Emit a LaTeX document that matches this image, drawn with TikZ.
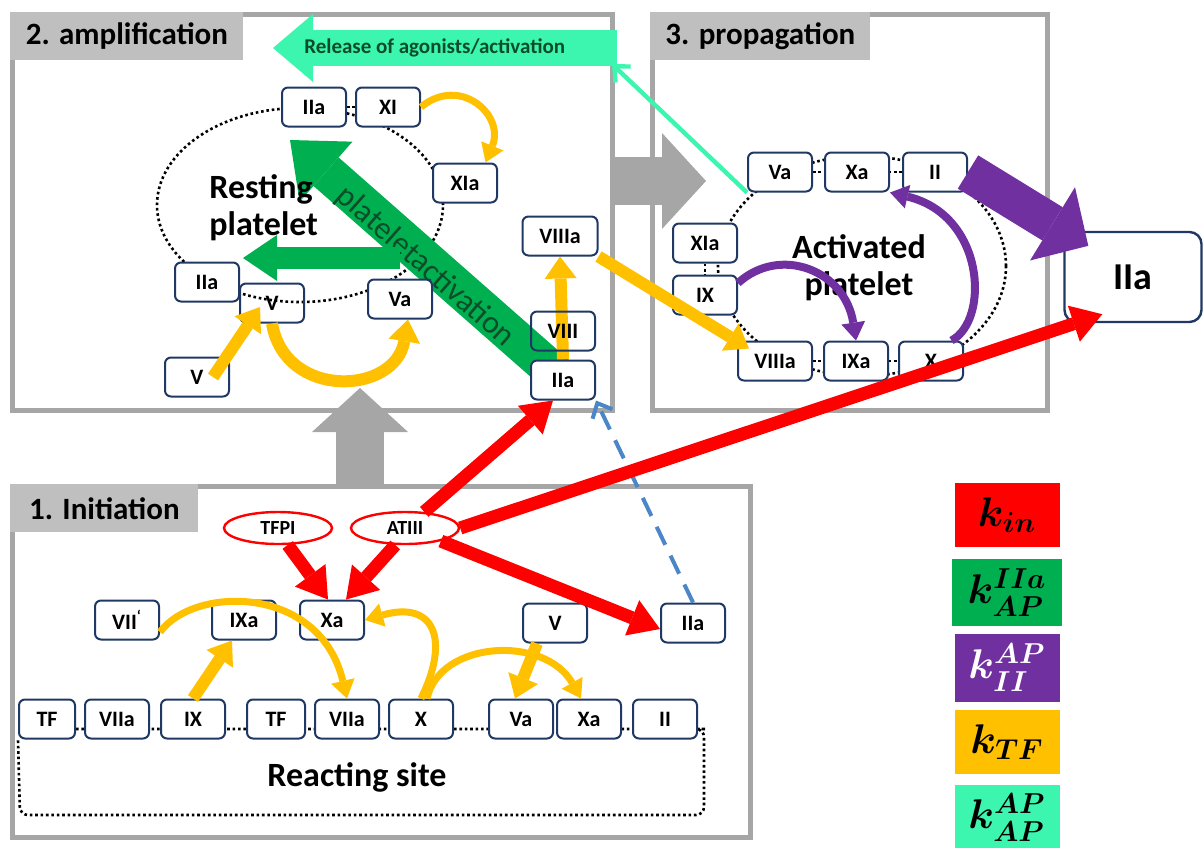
\documentclass[tikz,border=0pt]{standalone}
\usepackage{fontspec}
\setmainfont{Carlito}
\usetikzlibrary{arrows.meta,backgrounds,positioning,shapes.geometric}
\definecolor{CoagPanel}{HTML}{A6A6A6}
\definecolor{CoagLabel}{HTML}{BFBFBF}
\definecolor{CoagNavy}{HTML}{1F3864}
\definecolor{CoagRed}{HTML}{FF0000}
\definecolor{CoagGreen}{HTML}{00B050}
\definecolor{CoagGreenText}{HTML}{0B4D28}
\definecolor{CoagPurple}{HTML}{7030A0}
\definecolor{CoagYellow}{HTML}{FFC000}
\definecolor{CoagTeal}{HTML}{3CF5AE}
\definecolor{CoagBlue}{HTML}{4A86C8}
\tikzset{
  coag panel/.style={
    draw=CoagPanel,
    line width=2.5pt,
    anchor=north west,
    inner sep=0pt
  },
  coag phase/.style={
    fill=CoagLabel,
    anchor=north west,
    minimum height=24pt,
    inner sep=2pt,
    font=\fontsize{15.5}{18}\selectfont\bfseries
  },
  coag factor/.style={
    draw=CoagNavy,
    fill=white,
    line width=1pt,
    rounded corners=3pt,
    minimum width=32pt,
    minimum height=19.5pt,
    inner sep=1pt,
    font=\fontsize{11}{13}\selectfont\bfseries
  },
  coag inhibitor/.style={
    ellipse,
    draw=CoagRed,
    fill=white,
    line width=1.2pt,
    minimum width=54pt,
    minimum height=16pt,
    inner sep=0pt,
    font=\fontsize{10}{12}\selectfont\bfseries
  },
  coag membrane/.style={
    ellipse,
    draw=black,
    line width=1.3pt,
    dash pattern=on 1.3pt off 1.4pt,
    inner sep=0pt
  },
  coag cell text/.style={
    inner sep=0pt,
    font=\fontsize{17}{18.5}\selectfont\bfseries
  },
  coag key/.style={
    minimum width=52.5pt,
    minimum height=32pt,
    inner sep=0pt,
    font=\fontsize{22}{24}\selectfont\boldmath
  },
  coag site/.style={draw=black,line width=1.3pt,dash pattern=on 1.3pt off 1.4pt},
  coag gray flow/.style={-{Triangle[length=22pt,width=48pt,line width=0pt]},draw=CoagPanel,line width=24pt},
  coag release flow/.style={-{Triangle[length=20pt,width=34pt,line width=0pt]},draw=CoagTeal,line width=18pt},
  coag release thin/.style={-{Straight Barb[length=6pt,width=11pt]},draw=CoagTeal,line width=2.2pt},
  coag activation flow/.style={-{Triangle[length=24pt,width=40pt,line width=0pt]},draw=CoagGreen,line width=19pt},
  coag activation small/.style={-{Triangle[length=17pt,width=23pt,line width=0pt]},draw=CoagGreen,line width=11pt},
  coag yellow flow/.style={-{Triangle[length=11pt,width=16pt,line width=0pt]},draw=CoagYellow,line width=6pt},
  coag yellow thin/.style={-{Triangle[length=9pt,width=12pt,line width=0pt]},draw=CoagYellow,line width=3.5pt},
  coag purple flow/.style={-{Triangle[length=21pt,width=43pt,line width=0pt]},draw=CoagPurple,line width=19.5pt},
  coag purple thin/.style={-{Triangle[length=9pt,width=12pt,line width=0pt]},draw=CoagPurple,line width=4pt},
  coag red flow/.style={-{Triangle[length=15pt,width=19pt,line width=0pt]},draw=CoagRed,line width=6.5pt},
  coag thrombin dash/.style={-{Straight Barb[length=6pt,width=11pt]},draw=CoagBlue,line width=2pt,dash pattern=on 10pt off 6pt}
}

\begin{document}
\begin{tikzpicture}[x=0.5pt,y=-0.5pt,node distance=4pt]
  \useasboundingbox (0,0) rectangle (1204,847);

  \node[coag factor] (iia2t) at (314,107) {IIa};
  \node[coag factor,right=4pt of iia2t] (xi2) {XI};
  \node[coag factor] (xia2) at (465,183) {XIa};
  \node[coag factor] (iia2l) at (207,282) {IIa};
  \node[coag factor,fill=none] (v2) at (272,303) {V};
  \node[coag factor] (va2) at (400,299) {Va};
  \node[coag factor] (v2b) at (197,377) {V};
  \node[coag factor,minimum width=37.5pt] (viiia2) at (560,236) {VIIIa};
  \node[coag factor,fill=none] (viii2) at (563,331) {VIII};
  \node[coag factor,below=4pt of viii2] (iia2b) {IIa};
  \node[coag cell text,align=left,anchor=west] (resttext) at (209,208) {Resting\\platelet};

  \node[coag factor] (va3) at (780,172) {Va};
  \node[coag factor,right=5.5pt of va3] (xa3) {Xa};
  \node[coag factor,right=6pt of xa3] (ii3) {II};
  \node[coag factor] (xia3) at (705,243) {XIa};
  \node[coag factor,below=5.5pt of xia3] (ix3) {IX};
  \node[coag factor,minimum width=37pt] (viiia3) at (775,361) {VIIIa};
  \node[coag factor,right=5pt of viiia3] (ixa3) {IXa};
  \node[coag factor,right=4.5pt of ixa3] (x3) {X};
  \node[coag cell text,align=center] (acttext) at (859,268) {Activated\\platelet};
  \node[coag factor,minimum width=68.5pt,minimum height=45pt,rounded corners=6pt,line width=1.2pt,font=\fontsize{19}{22}\selectfont\bfseries] (iiabig) at (1133,277) {IIa};

  \node[coag factor,minimum width=28pt] (tf1) at (47,719) {TF};
  \node[coag factor,right=4pt of tf1] (viia1) {VIIa};
  \node[coag factor,right=5pt of viia1] (ix1) {IX};
  \node[coag factor,minimum width=29pt,right=10pt of ix1] (tf1b) {TF};
  \node[coag factor,right=4pt of tf1b] (viia1b) {VIIa};
  \node[coag factor,right=4pt of viia1b] (x1) {X};
  \node[coag factor,right=17pt of x1] (va1) {Va};
  \node[coag factor,right=1pt of va1] (xa1) {Xa};
  \node[coag factor,right=5pt of xa1] (ii1) {II};
  \node[coag factor] (vii1) at (127,620) {VII\textsuperscript{`}};
  \node[coag factor] (ixa1) at (244,620) {IXa};
  \node[coag factor,right=11pt of ixa1] (xa1t) {Xa};
  \node[coag factor] (v1) at (555,623) {V};
  \node[coag factor] (iia1) at (693,623) {IIa};
  \node[coag inhibitor] (tfpi) at (278,528) {TFPI};
  \node[coag inhibitor] (atiii) at (405,528) {ATIII};
  \node[coag cell text] (sitetext) at (357,777) {Reacting site};

  \node[coag key,fill=CoagRed] (keyin) at (1007,515) {$k_{in}$};
  \node[coag key,fill=CoagGreen,minimum width=55pt,minimum height=33.5pt,below=5.5pt of keyin] (keyiia) {$k_{AP}^{IIa}$};
  \node[coag key,fill=CoagPurple,text=white,minimum height=34pt,below=3.5pt of keyiia] (keyii) {$k_{II}^{AP}$};
  \node[coag key,fill=CoagYellow,below=4pt of keyii] (keytf) {$k_{TF}$};
  \node[coag key,fill=CoagTeal,minimum height=32.5pt,below=5pt of keytf] (keyap) {$k_{AP}^{AP}$};

  \begin{scope}[on background layer]
    \node[coag panel,minimum width=300pt,minimum height=198pt] (amppanel) at (10,12) {};
    \node[coag panel,minimum width=197.5pt,minimum height=198pt] (proppanel) at (650,12) {};
    \node[coag panel,minimum width=369pt,minimum height=175.5pt] (initpanel) at (10,484) {};
    \node[coag phase,minimum width=116.5pt] (amplabel) at (amppanel.north west) {2. amplification};
    \node[coag phase,minimum width=110pt] (proplabel) at (proppanel.north west) {3. propagation};
    \node[coag phase,minimum width=94pt] (initlabel) at (initpanel.north west) {1. Initiation};
    \node[coag membrane,minimum width=143pt,minimum height=97pt] (restcell) at (300,205) {};
    \node[coag membrane,minimum width=144pt,minimum height=110pt] (actcell) at (862,266) {};
    \draw[coag site] (iia2t) -- (xi2);
    \draw[coag site] (va3) -- (ii3);
    \draw[coag site] (viiia3) -- (x3);
    \draw[coag site] (xia3) -- (ix3);
    \coordinate (sitese) at (704,815);
    \coordinate (sitesw) at (20,815);
    \draw[coag site,rounded corners=4pt] ([yshift=-5pt]tf1.east) -- ([yshift=-5pt]ii1.east) -| (sitese) -- (sitesw) -- (tf1.south west);
    \coordinate (ampin) at (360,388);
    \coordinate (propin) at (706,181);
    \draw[coag gray flow] (initpanel.north -| ampin) -- (ampin);
    \draw[coag gray flow] (amppanel.east |- propin) -- (propin);
    \coordinate (relstart) at (617,48);
    \coordinate (reltip) at (273,48);
    \draw[coag release flow] (relstart) -- node[pos=0.53,text=CoagGreenText,font=\fontsize{10.5}{12}\selectfont\bfseries] {Release of agonists/activation} (reltip);
    \coordinate (acttip) at (290,140);
    \draw[coag activation flow] (iia2b.center) -- node[sloped,pos=0.49,yshift=-3pt,text=CoagGreenText,font=\fontsize{16}{18}\selectfont] {plateletactivation} (acttip);
    \coordinate (restfork) at (400,258);
    \coordinate (resttip) at (243,258);
    \draw[coag activation small] (restfork) -- (resttip);
    \draw[coag yellow flow] (iia2b.north) -- (viiia2.south);
  \end{scope}

  \draw[coag yellow thin] (xi2.east) .. controls (460,75) and (505,115) .. (xia2.45);
  \draw[coag yellow flow] ([xshift=8pt]v2b.center) -- ([xshift=-6pt,yshift=-2pt]v2.center);
  \draw[coag yellow flow] (v2.south) .. controls (285,400) and (395,395) .. ([xshift=4pt]va2.south);
  \draw[coag yellow flow] (viiia2.south east) -- ([xshift=6pt,yshift=-4pt]viiia3.north west);

  \coordinate (relback) at (612,64);
  \draw[coag release thin] (va3.south west) -- (relback);
  \draw[coag purple flow] (ii3.east) -- ([shift={(25,15)}]iiabig.north west);
  \draw[coag purple thin] (x3.45) .. controls (990,320) and (985,215) .. (xa3.south east);
  \draw[coag purple thin] (ix3.20) .. controls (780,245) and (845,270) .. (ixa3.north);

  \draw[coag thrombin dash] (iia1.north) -- (iia2b.south east);
  \draw[coag red flow] (tfpi.-60) -- ([xshift=-2pt]xa1t.north);
  \draw[coag red flow] (atiii.-120) -- ([xshift=7pt]xa1t.north);
  \draw[coag red flow] (atiii.-20) -- ([yshift=-3pt]iia1.west);
  \draw[coag red flow] (atiii.40) -- ([xshift=-5pt]iia2b.south);
  \draw[coag red flow] (atiii.east) -- ([shift={(39,-9)}]iiabig.south west);

  \draw[coag yellow thin] (vii1.-20) .. controls (195,585) and (320,585) .. (viia1b.north);
  \draw[coag yellow flow] (ix1.north) -- ([xshift=-6pt]ixa1.south);
  \draw[coag yellow thin] (x1.north) .. controls (450,640) and (435,600) .. (xa1t.east);
  \draw[coag yellow thin] ([xshift=3pt]x1.north) .. controls (440,640) and (545,635) .. ([xshift=-4pt]xa1.north);
  \draw[coag yellow flow] ([xshift=-9pt]v1.south) -- ([xshift=-3pt]va1.north);
\end{tikzpicture}
\end{document}
